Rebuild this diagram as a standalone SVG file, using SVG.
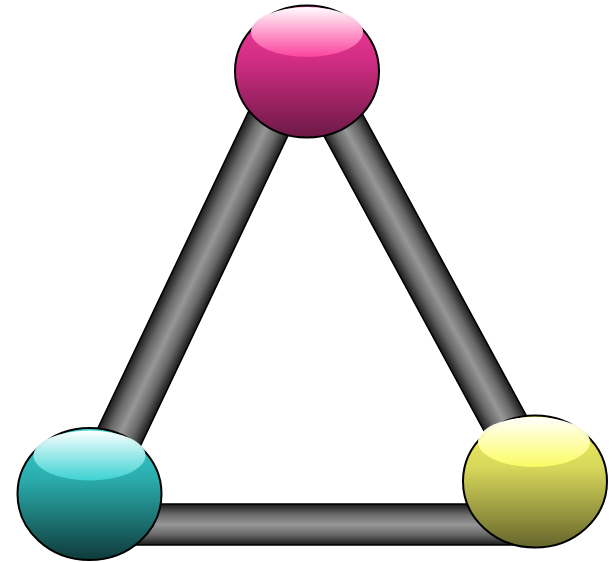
<svg xmlns="http://www.w3.org/2000/svg" width="609" height="562" viewBox="0 0 609 562">
  <defs>
    <linearGradient id="tube" x1="0" y1="0" x2="0" y2="1">
      <stop offset="0" stop-color="#1a1a1a"/>
      <stop offset="0.25" stop-color="#686868"/>
      <stop offset="0.5" stop-color="#979797"/>
      <stop offset="0.75" stop-color="#686868"/>
      <stop offset="1" stop-color="#1a1a1a"/>
    </linearGradient>
    <linearGradient id="bodyM" x1="0" y1="0" x2="0" y2="1">
      <stop offset="0" stop-color="#f0409a"/>
      <stop offset="0.4" stop-color="#d42d85"/>
      <stop offset="1" stop-color="#6c1945"/>
    </linearGradient>
    <linearGradient id="bodyC" x1="0" y1="0" x2="0" y2="1">
      <stop offset="0" stop-color="#3ed2d2"/>
      <stop offset="0.4" stop-color="#2aaaaa"/>
      <stop offset="1" stop-color="#0f3a3a"/>
    </linearGradient>
    <linearGradient id="bodyY" x1="0" y1="0" x2="0" y2="1">
      <stop offset="0" stop-color="#f5f560"/>
      <stop offset="0.4" stop-color="#d6d65a"/>
      <stop offset="1" stop-color="#65652c"/>
    </linearGradient>
    <linearGradient id="hlM" x1="0" y1="0" x2="0" y2="1">
      <stop offset="0" stop-color="#ffffff" stop-opacity="1"/>
      <stop offset="1" stop-color="#ff48a2" stop-opacity="0.9"/>
    </linearGradient>
    <linearGradient id="hlC" x1="0" y1="0" x2="0" y2="1">
      <stop offset="0" stop-color="#ffffff" stop-opacity="1"/>
      <stop offset="1" stop-color="#40d6d6" stop-opacity="0.9"/>
    </linearGradient>
    <linearGradient id="hlY" x1="0" y1="0" x2="0" y2="1">
      <stop offset="0" stop-color="#ffffff" stop-opacity="1"/>
      <stop offset="1" stop-color="#ffff66" stop-opacity="0.9"/>
    </linearGradient>
  </defs>
  <style>
    .tube { fill: url(#tube); stroke: #000; stroke-width: 1.5; }
    .body { stroke: #000; stroke-width: 2; }
    .hl { stroke: none; }
  </style>
  <g id="connectors">
    <g transform="translate(92,494) rotate(-64.56)">
      <rect class="tube" x="0" y="-23" width="468" height="46"/>
    </g>
    <g transform="translate(314.2,71.5) rotate(61.5)">
      <rect class="tube" x="0" y="-22.2" width="466.5" height="44.4"/>
    </g>
    <rect class="tube" x="92" y="504" width="443" height="41"/>
  </g>
  <g id="magenta" transform="translate(307,71.5)">
    <ellipse class="body" rx="72" ry="66" fill="url(#bodyM)"/>
    <ellipse class="hl" cx="0" cy="-39.5" rx="56" ry="25" fill="url(#hlM)"/>
  </g>
  <g id="cyan" transform="translate(89.5,494)">
    <ellipse class="body" rx="72" ry="66" fill="url(#bodyC)"/>
    <ellipse class="hl" cx="0" cy="-38.5" rx="56" ry="25" fill="url(#hlC)"/>
  </g>
  <g id="yellow" transform="translate(535,481.5)">
    <ellipse class="body" rx="72" ry="66" fill="url(#bodyY)"/>
    <ellipse class="hl" cx="-1" cy="-39.5" rx="56" ry="25" fill="url(#hlY)"/>
  </g>
</svg>
